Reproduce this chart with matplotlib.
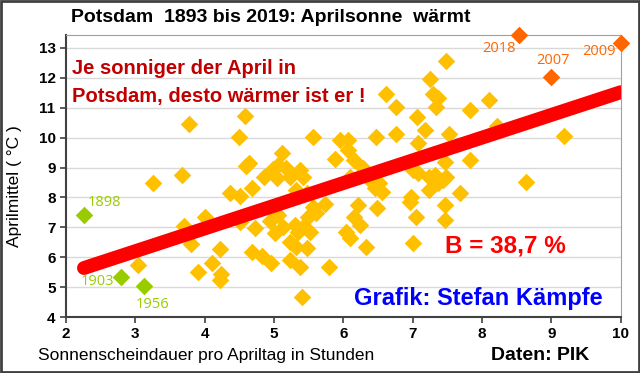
import matplotlib
matplotlib.use("Agg")
import matplotlib.pyplot as plt
from matplotlib.patches import Rectangle

# sunshine hours per April day vs. April mean temperature (Potsdam)
sun = [3.04, 3.25, 3.68, 3.70, 3.78, 3.81, 3.91, 4.00, 4.11, 4.22,
       4.24, 4.22, 4.36, 4.50, 4.51, 4.51, 4.58, 4.60, 4.64, 4.68,
       4.68, 4.72, 4.85, 4.82, 4.94, 4.96, 5.01, 4.99, 5.04, 5.06,
       5.06, 5.12, 5.13, 5.17, 5.23, 5.37, 5.42, 5.23, 5.23, 5.30,
       5.32, 5.32, 5.35, 5.38, 5.40, 5.42, 5.47, 5.47, 5.49, 5.52,
       5.56, 5.56, 5.61, 5.73, 5.80, 5.88, 5.95, 6.07, 6.07, 6.04,
       6.09, 6.09, 6.16, 6.16, 6.21, 6.24, 6.28, 6.32, 6.38, 6.45,
       6.47, 6.48, 6.52, 6.55, 6.61, 6.76, 6.76, 6.96, 6.98, 7.00,
       7.00, 7.05, 7.06, 7.08, 7.08, 7.17, 7.24, 7.24, 7.25, 7.29,
       7.32, 7.34, 7.36, 7.36, 7.44, 7.46, 7.46, 7.46, 7.48, 7.48,
       7.52, 7.68, 7.82, 7.82, 8.10, 8.21, 8.63, 9.18]
temp = [5.74, 8.49, 8.75, 7.03, 10.46, 6.44, 5.50, 7.35, 5.81, 6.26,
        5.43, 5.24, 8.16, 10.01, 8.05, 7.19, 10.74, 9.05, 9.16, 8.30,
        6.18, 6.98, 8.70, 6.04, 7.22, 5.80, 6.80, 8.94, 8.64, 7.41,
        9.07, 9.50, 7.02, 9.00, 8.70, 8.92, 8.68, 6.52, 5.91, 7.08,
        8.25, 6.35, 6.85, 5.68, 4.66, 7.02, 8.14, 6.30, 7.36, 6.85,
        7.69, 10.01, 7.47, 7.78, 5.66, 9.27, 9.93, 9.93, 9.59, 6.85,
        6.63, 8.69, 9.25, 7.36, 7.76, 7.08, 9.00, 6.35, 8.58, 8.30,
        10.03, 7.66, 8.47, 8.19, 11.46, 11.02, 10.12, 7.86, 8.03, 8.93,
        6.47, 7.36, 10.70, 9.81, 8.82, 10.24, 8.69, 8.25, 11.97, 11.46,
        8.75, 11.03, 11.31, 8.47, 8.58, 9.18, 7.75, 7.26, 8.69, 12.56,
        10.12, 8.14, 10.92, 9.24, 11.26, 10.38, 8.51, 10.05]

# highlighted years
warm_years = ["2018", "2007", "2009"]
warm_sun = [8.53, 9.00, 10.00]
warm_temp = [13.43, 12.02, 13.16]
cold_years = ["1898", "1903", "1956"]
cold_sun = [2.26, 2.79, 3.12]
cold_temp = [7.41, 5.34, 5.04]

# linear trend
trend_x = [2.26, 10.0]
trend_y = [5.64, 11.52]

fig = plt.figure(figsize=(6.4, 3.73), dpi=100)
ax = fig.add_axes([0.103, 0.150, 0.867, 0.756])
fig.patches.append(Rectangle((0.002, 0.003), 0.996, 0.994, transform=fig.transFigure,
                             fill=False, edgecolor='#404040', linewidth=2))

ax.set_xlim(2, 10)
ax.set_ylim(4, 13.43)
ax.set_xticks(range(2, 11))
ax.set_yticks(range(4, 14))
ax.yaxis.grid(True, color='#d9d9d9', linewidth=1)
ax.set_axisbelow(True)
for side in ['top', 'right']:
    ax.spines[side].set_color('#a0a0a0')
    ax.spines[side].set_linewidth(0.8)
for side in ['left', 'bottom']:
    ax.spines[side].set_color('#404040')
    ax.spines[side].set_linewidth(1.5)
ax.tick_params(direction='out', length=4, width=1.2, color='#404040')
for lab in ax.get_xticklabels() + ax.get_yticklabels():
    lab.set_fontfamily('Liberation Sans')
    lab.set_fontweight('bold')
    lab.set_fontsize(11)

ax.scatter(sun, temp, marker='D', s=80, color='#FFC000', linewidths=0, zorder=3)
ax.plot(trend_x, trend_y, color='#FF0000', linewidth=10, solid_capstyle='round', zorder=4)
ax.scatter(warm_sun, warm_temp, marker='D', s=80, color='#FF6600', linewidths=0,
           zorder=5, clip_on=False)
ax.scatter(cold_sun, cold_temp, marker='D', s=80, color='#99CC00', linewidths=0, zorder=5)

offsets = {"2018": (-14, -10), "2007": (1, 12), "2009": (-15.5, -6),
           "1898": (15, 9), "1903": (-17, -3.5), "1956": (6.5, -13)}
for yr, x, y in zip(warm_years, warm_sun, warm_temp):
    ax.annotate(yr, (x, y), xytext=offsets[yr], textcoords='offset points',
                ha='center', va='center', color='#FF6600', fontsize=10.5,
                family='Open Sans', annotation_clip=False)
for yr, x, y in zip(cold_years, cold_sun, cold_temp):
    ax.annotate(yr, (x, y), xytext=offsets[yr], textcoords='offset points',
                ha='center', va='center', color='#99CC00', fontsize=10.5,
                family='Open Sans')

fig.text(0.423, 0.952, "Potsdam  1893 bis 2019: Aprilsonne  wärmt", ha='center', va='center',
         fontsize=14, fontweight='bold', family='Liberation Sans')
fig.text(0.112, 0.779, "Je sonniger der April in\nPotsdam, desto wärmer ist er !",
         ha='left', va='center', fontsize=14.5, fontweight='bold', color='#C00000',
         family='Liberation Sans', linespacing=1.65)
fig.text(0.79, 0.340, "B = 38,7 %", ha='center', va='center', fontsize=17.5,
         fontweight='bold', color='#FF0000', family='Liberation Sans')
fig.text(0.747, 0.200, "Grafik: Stefan Kämpfe", ha='center', va='center', fontsize=17,
         fontweight='bold', color='#0000FF', family='Liberation Sans')
fig.text(0.322, 0.048, "Sonnenscheindauer pro Apriltag in Stunden", ha='center', va='center',
         fontsize=12.5, family='Liberation Sans')
fig.text(0.844, 0.048, "Daten: PIK", ha='center', va='center', fontsize=14,
         fontweight='bold', family='Liberation Sans')
fig.text(0.022, 0.50, "Aprilmittel ( °C )", ha='center', va='center', rotation=90,
         fontsize=12.5, family='Liberation Sans')

fig.savefig('out.png', dpi=100)
